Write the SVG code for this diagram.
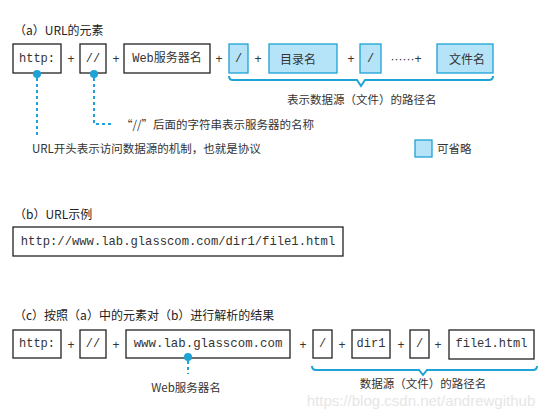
<svg xmlns="http://www.w3.org/2000/svg" width="550" height="417" viewBox="0 0 550 417">
<style>
.bg{fill:#fff}
.box{fill:#fff;stroke:#222;stroke-width:1.3}
.opt{fill:#b5e3f8;stroke:#1da3d5;stroke-width:1.3}
.mono{font-family:"Liberation Mono","Noto Sans CJK SC",monospace;font-size:12px;fill:#333;text-anchor:middle;dominant-baseline:central}
.lbl{font-family:"Noto Sans CJK SC","Noto Sans",sans-serif;font-size:11.5px;fill:#333;dominant-baseline:central}
.ttl{font-family:"Noto Sans CJK SC","Noto Sans",sans-serif;font-size:12px;fill:#222;dominant-baseline:central}
.plus{font-family:"Liberation Sans",sans-serif;font-size:12px;fill:#333;text-anchor:middle;dominant-baseline:central}
.cjk{font-family:"Noto Sans CJK SC",sans-serif;font-size:12px;fill:#333;text-anchor:middle;dominant-baseline:central}
.brace{fill:none;stroke:#1da3d5;stroke-width:2}
.dot{fill:#1da3d5}
.dash{fill:none;stroke:#1da3d5;stroke-width:2;stroke-dasharray:3 3}
</style>
<rect class="bg" x="0" y="0" width="550" height="417"/>

<!-- Section a -->
<text class="ttl" x="14" y="29">（a）URL的元素</text>
<g id="a-http"><rect class="box" x="13" y="44" width="48" height="29"/><text class="mono" x="37" y="58.5">http:</text></g>
<text class="plus" x="71" y="59">+</text>
<g id="a-slashes"><rect class="box" x="80" y="44" width="26" height="29"/><text class="mono" x="93" y="58.5">//</text></g>
<text class="plus" x="116" y="59">+</text>
<g id="a-server"><rect class="box" x="124" y="44" width="86" height="29"/><text class="mono" x="167" y="58.5">Web服务器名</text></g>
<text class="plus" x="219" y="59">+</text>
<g id="a-slash1"><rect class="opt" x="229" y="44" width="19" height="29"/><text class="mono" x="238.5" y="58.5">/</text></g>
<text class="plus" x="258" y="59">+</text>
<g id="a-dir"><rect class="opt" x="269" y="44" width="68" height="29"/><text class="cjk" x="298" y="58.5">目录名</text></g>
<text class="plus" x="351" y="59">+</text>
<g id="a-slash2"><rect class="opt" x="360" y="44" width="21" height="29"/><text class="mono" x="370.5" y="58.5">/</text></g>
<text class="plus" x="406" y="59">······+</text>
<g id="a-file"><rect class="opt" x="437" y="44" width="56" height="29"/><text class="cjk" x="467" y="58.5">文件名</text></g>

<g id="connectors-a">
<path class="brace" d="M229,76 Q229,80 233,80 L357,80 L361,86 L365,80 L489,80 Q493,80 493,76"/>
<circle class="dot" cx="37" cy="74" r="4"/>
<path class="dash" d="M37,78 L37,136"/>
<circle class="dot" cx="94" cy="74" r="4"/>
<path class="dash" d="M94,78 L94,124 L113,124"/>
</g>
<text class="lbl" x="287" y="99">表示数据源（文件）的路径名</text>
<text class="lbl" x="121" y="124">“//”后面的字符串表示服务器的名称</text>
<text class="lbl" x="32" y="148">URL开头表示访问数据源的机制，也就是协议</text>
<g id="legend"><rect class="opt" x="415" y="140" width="17" height="17"/><text class="lbl" x="437" y="148">可省略</text></g>

<!-- Section b -->
<text class="ttl" x="14" y="213">（b）URL示例</text>
<g id="b-url"><rect class="box" x="13" y="227" width="330" height="29"/><text class="mono" x="178" y="241.5" style="font-size:12.2px">http://www.lab.glasscom.com/dir1/file1.html</text></g>

<!-- Section c -->
<text class="ttl" x="14" y="314">（c）按照（a）中的元素对（b）进行解析的结果</text>
<g id="c-http"><rect class="box" x="13" y="330" width="48" height="28"/><text class="mono" x="37" y="344">http:</text></g>
<text class="plus" x="71" y="345">+</text>
<g id="c-slashes"><rect class="box" x="80" y="330" width="26" height="28"/><text class="mono" x="93" y="344">//</text></g>
<text class="plus" x="116" y="345">+</text>
<g id="c-server"><rect class="box" x="126" y="330" width="164" height="28"/><text class="mono" x="208" y="344" style="font-size:12.4px">www.lab.glasscom.com</text></g>
<text class="plus" x="303" y="345">+</text>
<g id="c-slash1"><rect class="box" x="313" y="330" width="19" height="28"/><text class="mono" x="322.5" y="344">/</text></g>
<text class="plus" x="342" y="345">+</text>
<g id="c-dir"><rect class="box" x="352" y="330" width="38" height="28"/><text class="mono" x="371" y="344">dir1</text></g>
<text class="plus" x="401" y="345">+</text>
<g id="c-slash2"><rect class="box" x="410" y="330" width="19" height="28"/><text class="mono" x="419.5" y="344">/</text></g>
<text class="plus" x="438" y="345">+</text>
<g id="c-file"><rect class="box" x="449" y="330" width="85" height="29"/><text class="mono" x="491.5" y="344">file1.html</text></g>

<g id="connectors-c">
<circle class="dot" cx="188" cy="357" r="4"/>
<path class="dash" d="M188,361 L188,374"/>
<path class="brace" d="M312,366 Q312,370 316,370 L419,370 L423,375 L427,370 L533,370 Q537,370 537,366"/>
</g>
<text class="lbl" x="186" y="387" style="text-anchor:middle">Web服务器名</text>
<text class="lbl" x="423" y="383" style="text-anchor:middle">数据源（文件）的路径名</text>

<text x="421" y="400" style="font-family:'Liberation Sans',sans-serif;font-size:15px;fill:#e6e6e6;text-anchor:middle;dominant-baseline:central">https://blog.csdn.net/andrewgithub</text>
</svg>
